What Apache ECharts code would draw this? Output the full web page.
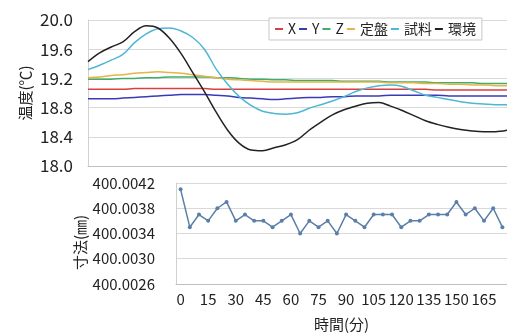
<!DOCTYPE html>
<html>
<head>
<meta charset="utf-8">
<script src="https://cdn.jsdelivr.net/npm/echarts/dist/echarts.min.js"></script>
<style>
  html, body { margin: 0; padding: 0; background: #fff; }
  #chart { width: 507px; height: 333px; }
</style>
</head>
<body>
<div id="chart"></div>
<script>
// 温度 (upper panel), every 5 min
var topTimes = [0, 5, 10, 15, 20, 25, 30, 35, 40, 45, 50, 55, 60, 65, 70, 75, 80, 85, 90,
  95, 100, 105, 110, 115, 120, 125, 130, 135, 140, 145, 150, 155, 160, 165, 170, 175, 180]
var tempX = [19.05, 19.05, 19.05, 19.05, 19.06, 19.06, 19.06, 19.06, 19.06, 19.06, 19.06, 19.05,
  19.05, 19.05, 19.05, 19.05, 19.05, 19.05, 19.05, 19.05, 19.05, 19.05, 19.05, 19.05, 19.05,
  19.05, 19.05, 19.05, 19.05, 19.05, 19.04, 19.04, 19.04, 19.04, 19.04, 19.04, 19.04]
var tempY = [18.92, 18.92, 18.92, 18.93, 18.94, 18.95, 18.96, 18.97, 18.98, 18.98, 18.98, 18.97,
  18.96, 18.94, 18.93, 18.92, 18.91, 18.92, 18.93, 18.94, 18.94, 18.95, 18.95, 18.96, 18.96,
  18.96, 18.97, 18.97, 18.97, 18.97, 18.97, 18.96, 18.96, 18.96, 18.96, 18.96, 18.96]
var tempZ = [19.19, 19.19, 19.19, 19.20, 19.20, 19.21, 19.21, 19.22, 19.22, 19.22, 19.22, 19.21,
  19.21, 19.20, 19.19, 19.19, 19.18, 19.18, 19.17, 19.17, 19.17, 19.17, 19.16, 19.16, 19.16,
  19.16, 19.15, 19.15, 19.15, 19.15, 19.14, 19.14, 19.14, 19.14, 19.13, 19.13, 19.13]
var tempPlate = [19.21, 19.22, 19.24, 19.25, 19.27, 19.28, 19.29, 19.28, 19.27, 19.25, 19.23, 19.21,
  19.19, 19.18, 19.17, 19.16, 19.15, 19.15, 19.15, 19.15, 19.15, 19.15, 19.15, 19.15, 19.15,
  19.15, 19.14, 19.14, 19.14, 19.13, 19.13, 19.12, 19.12, 19.11, 19.11, 19.10, 19.10]
var tempSample = [19.32, 19.38, 19.45, 19.53, 19.69, 19.81, 19.88, 19.89, 19.85, 19.76, 19.60, 19.33,
  19.12, 18.95, 18.83, 18.75, 18.72, 18.71, 18.73, 18.79, 18.84, 18.89, 18.95, 19.02, 19.07,
  19.10, 19.11, 19.09, 19.03, 18.97, 18.94, 18.91, 18.88, 18.86, 18.85, 18.84, 18.84]
var tempEnv = [19.43, 19.55, 19.63, 19.70, 19.84, 19.92, 19.89, 19.75, 19.54, 19.28, 19.02, 18.74,
  18.49, 18.31, 18.22, 18.21, 18.25, 18.29, 18.36, 18.49, 18.60, 18.70, 18.77, 18.82, 18.86,
  18.87, 18.82, 18.76, 18.69, 18.62, 18.57, 18.53, 18.50, 18.48, 18.47, 18.47, 18.49]

// 寸法 (lower panel), every 5 min
var dimTimes = ['0', '5', '10', '15', '20', '25', '30', '35', '40', '45', '50', '55', '60', '65',
  '70', '75', '80', '85', '90', '95', '100', '105', '110', '115', '120', '125', '130', '135',
  '140', '145', '150', '155', '160', '165', '170', '175']
var dims = [400.0041, 400.0035, 400.0037, 400.0036, 400.0038, 400.0039, 400.0036, 400.0037,
  400.0036, 400.0036, 400.0035, 400.0036, 400.0037, 400.0034, 400.0036, 400.0035, 400.0036,
  400.0034, 400.0037, 400.0036, 400.0035, 400.0037, 400.0037, 400.0037, 400.0035, 400.0036,
  400.0036, 400.0037, 400.0037, 400.0037, 400.0039, 400.0037, 400.0038, 400.0036, 400.0038,
  400.0035]
var dimBase = 400.0026

var FONT = '"Noto Sans CJK JP", "Noto Sans", sans-serif'
var chart = echarts.init(document.getElementById('chart'))

function pairs(vals) {
  return topTimes.map(function(t, i) { return [t, vals[i]] })
}

function tempLine(name, vals, color) {
  return {
    name: name,
    type: 'line',
    xAxisIndex: 0,
    yAxisIndex: 0,
    data: pairs(vals),
    showSymbol: false,
    smooth: 0.35,
    lineStyle: { width: 1.5, color: color },
    itemStyle: { color: color }
  }
}

chart.setOption({
  animation: false,
  textStyle: { fontFamily: FONT },
  legend: {
    left: 269,
    top: 18,
    padding: [4, 6, 4, 6],
    itemGap: 3,
    itemWidth: 8,
    itemHeight: 2,
    icon: 'rect',
    borderColor: '#c8c8c8',
    borderWidth: 1,
    borderRadius: 0,
    backgroundColor: '#fff',
    textStyle: { fontSize: 14, color: '#222', fontFamily: FONT },
    data: ['X', 'Y', 'Z', '定盤', '試料', '環境']
  },
  grid: [
    { left: 88, top: 20, width: 420, height: 146 },
    { left: 176, top: 183, width: 339, height: 101 }
  ],
  xAxis: [
    {
      gridIndex: 0,
      type: 'value',
      min: 0,
      max: 180,
      axisLine: { lineStyle: { color: '#bfbfbf' } },
      axisTick: { show: false },
      axisLabel: { show: false },
      splitLine: { show: false }
    },
    {
      gridIndex: 1,
      type: 'category',
      data: dimTimes,
      boundaryGap: true,
      name: '時間(分)',
      nameLocation: 'middle',
      nameGap: 33,
      nameMoveOverlap: false,
      nameTextStyle: { fontSize: 15, color: '#222' },
      axisLine: { lineStyle: { color: '#bfbfbf' } },
      axisTick: { interval: 2, length: 5, lineStyle: { color: '#bfbfbf' } },
      axisLabel: { interval: 2, fontSize: 15, color: '#222', margin: 8 }
    }
  ],
  yAxis: [
    {
      gridIndex: 0,
      type: 'value',
      min: 18,
      max: 20,
      interval: 0.4,
      name: '温度(℃)',
      nameLocation: 'middle',
      nameRotate: 90,
      nameGap: 55,
      nameMoveOverlap: false,
      nameTextStyle: { fontSize: 15, color: '#222' },
      axisLine: { show: true, lineStyle: { color: '#d0d0d0' } },
      axisTick: { show: false },
      axisLabel: {
        fontSize: 17,
        color: '#222',
        margin: 15,
        formatter: function(v) { return v.toFixed(1) }
      },
      splitLine: { lineStyle: { color: '#d9d9d9' } }
    },
    {
      gridIndex: 1,
      type: 'value',
      min: 0,
      max: 0.0016,
      interval: 0.0004,
      name: '寸法(㎜)',
      nameLocation: 'middle',
      nameRotate: 90,
      nameGap: 88,
      nameMoveOverlap: false,
      nameTextStyle: { fontSize: 15, color: '#222', padding: [0, 18, 0, 0] },
      axisLine: { show: true, lineStyle: { color: '#d0d0d0' } },
      axisTick: { show: false },
      axisLabel: {
        fontSize: 15,
        color: '#222',
        margin: 21,
        formatter: function(v) { return (dimBase + v).toFixed(4) }
      },
      splitLine: { lineStyle: { color: '#d9d9d9' } }
    }
  ],
  series: [
    tempLine('X', tempX, '#d9403f'),
    tempLine('Y', tempY, '#3a3ab8'),
    tempLine('Z', tempZ, '#3fae6a'),
    tempLine('定盤', tempPlate, '#e6b445'),
    tempLine('試料', tempSample, '#4cb8d4'),
    tempLine('環境', tempEnv, '#222222'),
    {
      name: '寸法',
      type: 'line',
      xAxisIndex: 1,
      yAxisIndex: 1,
      data: dims.map(function(v) { return +(v - dimBase).toFixed(6) }),
      symbol: 'circle',
      symbolSize: 4,
      lineStyle: { width: 1.5, color: '#5b7fa8' },
      itemStyle: { color: '#5b7fa8' }
    }
  ]
})
</script>
</body>
</html>
